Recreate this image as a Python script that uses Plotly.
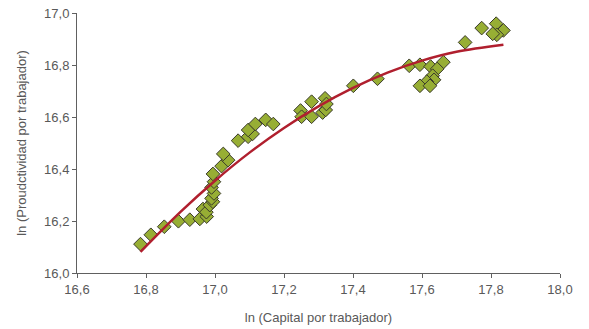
import plotly.graph_objects as go

# Scatter data
capital = [16.784, 16.814, 16.853, 16.894, 16.927, 16.956, 16.976, 16.965, 16.975,
           16.985, 16.994, 16.990, 16.997, 16.990, 16.997, 16.994, 17.019, 17.038,
           17.024, 17.067, 17.096, 17.109, 17.096, 17.117, 17.147, 17.169,
           17.248, 17.251, 17.280, 17.280, 17.312, 17.319, 17.321, 17.323, 17.401, 17.471,
           17.563, 17.594, 17.625, 17.662, 17.644, 17.631, 17.635, 17.614, 17.594, 17.623,
           17.725, 17.773, 17.815, 17.836, 17.817, 17.805]
productividad = [16.111, 16.147, 16.178, 16.199, 16.205, 16.208, 16.217, 16.246, 16.234,
                 16.261, 16.274, 16.287, 16.306, 16.329, 16.351, 16.381, 16.411, 16.434,
                 16.458, 16.509, 16.524, 16.535, 16.550, 16.573, 16.589, 16.573,
                 16.625, 16.601, 16.659, 16.601, 16.617, 16.672, 16.627, 16.650, 16.720, 16.747,
                 16.797, 16.801, 16.794, 16.811, 16.785, 16.759, 16.743, 16.736, 16.720, 16.720,
                 16.887, 16.942, 16.959, 16.933, 16.916, 16.920]

# Trend curve
trend_x = [16.784, 16.9, 17.0, 17.1, 17.2, 17.3, 17.4, 17.5, 17.6, 17.7, 17.836]
trend_y = [16.081, 16.235, 16.355, 16.463, 16.558, 16.641, 16.712, 16.771, 16.817, 16.851, 16.878]

x_ticks = [16.6, 16.8, 17.0, 17.2, 17.4, 17.6, 17.8, 18.0]
y_ticks = [16.0, 16.2, 16.4, 16.6, 16.8, 17.0]

fig = go.Figure()
fig.add_trace(go.Scatter(
    x=capital, y=productividad, mode="markers",
    marker=dict(symbol="diamond", size=10.5, color="#97ae34",
                line=dict(color="#3a3a2a", width=1)),
    showlegend=False, cliponaxis=False))
fig.add_trace(go.Scatter(
    x=trend_x, y=trend_y, mode="lines",
    line=dict(color="#b01f2e", width=2.5, shape="spline"),
    showlegend=False))

font_main = dict(family="Liberation Sans, Arial", size=13, color="#595959")
axis_common = dict(showgrid=False, zeroline=False, showline=True, automargin=False,
                   linecolor="#606060", linewidth=1, ticks="outside",
                   ticklen=4, tickcolor="#606060", tickformat=".1f",
                   tickfont=font_main)

fig.update_layout(
    width=589, height=329,
    margin=dict(l=77, r=29, t=13, b=56),
    paper_bgcolor="white", plot_bgcolor="white",
    separators=",.",
    xaxis=dict(range=[16.6, 18.0], tickvals=x_ticks, **axis_common,
               title=dict(text="ln (Capital por trabajador)", standoff=17, font=font_main)),
    yaxis=dict(range=[16.0, 17.0], tickvals=y_ticks, **axis_common,
               title=dict(text="ln (Proudctividad por trabajador)", standoff=14, font=font_main)),
)

fig.write_html("out.html", config={"displayModeBar": False},
               post_script="document.body.style.margin='0';")
